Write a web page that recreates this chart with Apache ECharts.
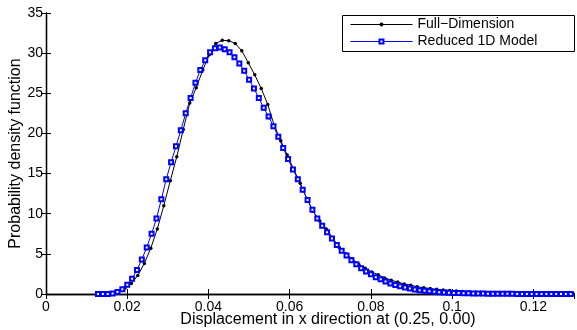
<!DOCTYPE html>
<html>
<head>
<meta charset="utf-8">
<script src="https://cdn.jsdelivr.net/npm/echarts@6/dist/echarts.min.js"></script>
<style>html,body{margin:0;padding:0;background:#fff;}#c{width:577px;height:330px;}</style>
</head>
<body>
<div id="c"></div>
<script>
var fullX = [0.0130,0.0146,0.0162,0.0178,0.0194,0.0210,0.0226,0.0242,0.0258,0.0274,0.0290,0.0306,0.0322,0.0338,0.0354,0.0370,0.0386,0.0402,0.0418,0.0434,0.0450,0.0466,0.0482,0.0498,0.0514,0.0530,0.0546,0.0562,0.0578,0.0594,0.0610,0.0626,0.0642,0.0658,0.0674,0.0690,0.0706,0.0722,0.0738,0.0754,0.0770,0.0786,0.0802,0.0818,0.0834,0.0850,0.0866,0.0882,0.0898,0.0914,0.0930,0.0946,0.0962,0.0978,0.0994,0.1010,0.1026,0.1042,0.1058,0.1074,0.1090,0.1106,0.1122,0.1138,0.1154,0.1170,0.1186,0.1202,0.1218,0.1234,0.1250,0.1266,0.1282,0.1298];
var fullY = [0.00,0.01,0.06,0.25,0.72,1.3,2.3,3.8,5.7,8.1,11.0,14.1,17.1,20.5,23.8,25.7,27.9,29.8,31.2,31.6,31.55,31.2,30.3,28.8,27.3,25.6,23.6,21.0,19.1,17.3,15.5,13.8,11.9,10.3,9.1,8.1,7.0,5.8,5.0,4.4,3.7,3.2,2.75,2.4,2.0,1.7,1.5,1.25,1.1,0.9,0.78,0.67,0.58,0.5,0.43,0.37,0.31,0.26,0.22,0.18,0.15,0.13,0.11,0.09,0.08,0.07,0.06,0.05,0.04,0.035,0.03,0.025,0.02,0.02];
var redX = [0.0128,0.0140,0.0152,0.0164,0.0176,0.0188,0.0200,0.0212,0.0224,0.0236,0.0248,0.0260,0.0272,0.0284,0.0296,0.0308,0.0320,0.0332,0.0344,0.0356,0.0368,0.0380,0.0392,0.0404,0.0416,0.0428,0.0440,0.0452,0.0464,0.0476,0.0488,0.0500,0.0512,0.0524,0.0536,0.0548,0.0560,0.0572,0.0584,0.0596,0.0608,0.0620,0.0632,0.0644,0.0656,0.0668,0.0680,0.0692,0.0704,0.0716,0.0728,0.0740,0.0752,0.0764,0.0776,0.0788,0.0800,0.0812,0.0824,0.0836,0.0848,0.0860,0.0872,0.0884,0.0896,0.0908,0.0920,0.0932,0.0944,0.0956,0.0968,0.0980,0.0992,0.1004,0.1016,0.1028,0.1040,0.1052,0.1064,0.1076,0.1088,0.1100,0.1112,0.1124,0.1136,0.1148,0.1160,0.1172,0.1184,0.1196,0.1208,0.1220,0.1232,0.1244,0.1256,0.1268,0.1280,0.1292];
var redY = [0.00,0.00,0.01,0.07,0.25,0.6,1.15,1.9,3.0,4.3,5.8,7.5,9.4,11.8,14.3,16.4,18.4,20.4,22.5,24.4,26.3,27.9,29.1,30.1,30.6,30.7,30.5,30.1,29.5,28.7,27.8,26.7,25.6,24.4,23.2,22.1,20.9,19.6,18.2,16.8,15.5,14.3,13.0,11.7,10.5,9.4,8.5,7.7,6.9,6.1,5.4,4.8,4.2,3.7,3.2,2.8,2.45,2.1,1.85,1.55,1.32,1.12,0.96,0.82,0.68,0.57,0.48,0.40,0.33,0.28,0.23,0.19,0.16,0.13,0.11,0.09,0.08,0.07,0.06,0.05,0.04,0.035,0.03,0.025,0.02,0.02,0.015,0.012,0.01,0.01,0.008,0.007,0.006,0.005,0.004,0.004,0.003,0.003];
var xTicks = [0, 0.02, 0.04, 0.06, 0.08, 0.1, 0.12];
var yTicks = [0, 5, 10, 15, 20, 25, 30, 35];
var seriesNames = ['Full\u2212Dimension', 'Reduced 1D Model'];
var xLabel = 'Displacement in x direction at (0.25, 0.00)';
var yLabel = 'Probability density function';

function pairs(xs, ys) { return xs.map(function (x, i) { return [x, ys[i]]; }); }

var font = 'Liberation Sans, Arial, Helvetica, sans-serif';
var chart = echarts.init(document.getElementById('c'), null, {renderer: 'canvas'});
var axisLineStyle = {show: true, lineStyle: {color: '#000', width: 1.3}};
var tick = {show: true, inside: true, length: 5, lineStyle: {color: '#000', width: 1}};
chart.setOption({
  animation: false,
  backgroundColor: '#fff',
  grid: {left: 46, right: 3, top: 13, bottom: 36, containLabel: false, outerBoundsMode: 'none'},
  graphic: [{
    type: 'rect', left: 342, top: 15, z: 50, silent: true,
    shape: {width: 232, height: 36},
    style: {fill: '#fff', stroke: '#000', lineWidth: 1}
  }],
  xAxis: [
    {type: 'value', min: 0, max: 0.13, interval: 0.02, position: 'bottom',
     axisLine: axisLineStyle, axisTick: tick, splitLine: {show: false},
     axisLabel: {color: '#000', fontFamily: font, fontSize: 14, margin: 6, showMaxLabel: false,
       formatter: function (v) { return xTicks.indexOf(Math.round(v * 100) / 100) >= 0 ? String(Math.round(v * 100) / 100) : ''; }},
     name: xLabel, nameLocation: 'middle', nameGap: 18, nameMoveOverlap: false,
     nameTextStyle: {color: '#000', fontFamily: font, fontSize: 16, lineHeight: 16, padding: [0, 0, 0, 36]}},
    {type: 'value', min: 0, max: 0.13, interval: 0.02, position: 'top',
     axisLine: axisLineStyle, axisTick: tick, axisLabel: {show: false}, splitLine: {show: false}}
  ],
  yAxis: [
    {type: 'value', min: 0, max: 35, interval: 5, position: 'left',
     axisLine: axisLineStyle, axisTick: tick, splitLine: {show: false},
     axisLabel: {color: '#000', fontFamily: font, fontSize: 14, margin: 3,
       formatter: function (v) { return yTicks.indexOf(v) >= 0 ? String(v) : ''; }},
     name: yLabel, nameLocation: 'middle', nameGap: 22, nameMoveOverlap: false,
     nameTextStyle: {color: '#000', fontFamily: font, fontSize: 16, lineHeight: 16}},
    {type: 'value', min: 0, max: 35, interval: 5, position: 'right',
     axisLine: axisLineStyle, axisTick: tick, axisLabel: {show: false}, splitLine: {show: false}}
  ],
  legend: {
    orient: 'vertical', left: 350, top: 17, z: 60,
    padding: 0, itemGap: 2, itemWidth: 62, itemHeight: 5,
    lineStyle: {width: 1},
    textStyle: {color: '#000', fontFamily: font, fontSize: 14, padding: [0, 0, 0, 0], lineHeight: 15},
    data: seriesNames
  },
  series: [
    {name: seriesNames[0], type: 'line', data: pairs(fullX, fullY),
     symbol: 'circle', symbolSize: 3.5, showAllSymbol: true, clip: true,
     lineStyle: {color: '#000', width: 1}, itemStyle: {color: '#000'}},
    {name: seriesNames[1], type: 'line', data: pairs(redX, redY),
     symbol: 'emptyRect', symbolSize: 4, showAllSymbol: true, clip: true,
     lineStyle: {color: '#0000ff', width: 1}, itemStyle: {color: '#0000ff', borderWidth: 1}}
  ]
});
</script>
</body>
</html>
